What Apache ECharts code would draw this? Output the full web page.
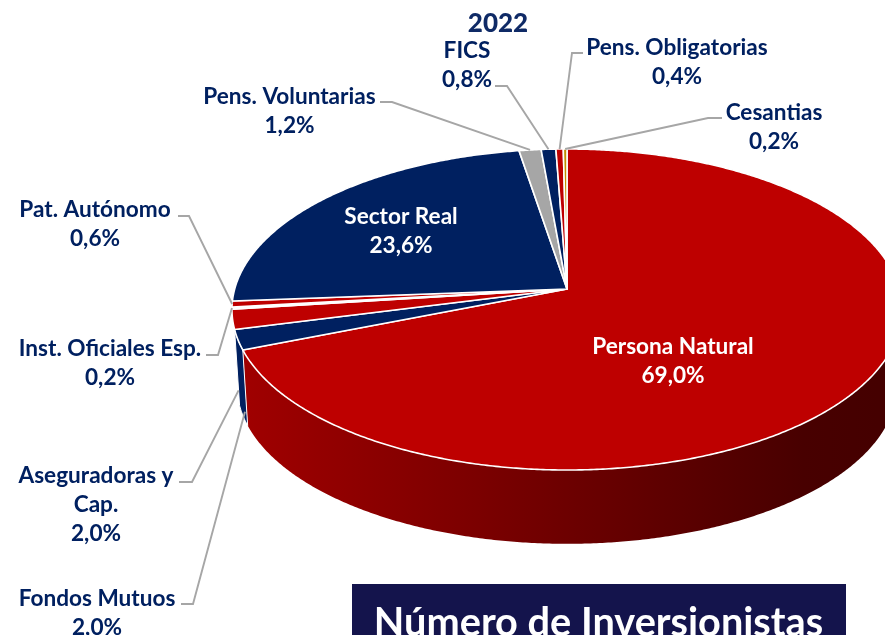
<!DOCTYPE html>
<html>
<head>
<meta charset="utf-8">
<style>html,body{margin:0;padding:0;background:#fff;overflow:hidden}#c{width:885px;height:635px}</style>
<script src="https://cdn.jsdelivr.net/npm/echarts@6/dist/echarts.min.js"></script>
</head>
<body>
<div id="c"></div>
<script>
// Data, clockwise from the top of the pie
const categories = ['Persona Natural','Fondos Mutuos','Aseguradoras y Cap.','Inst. Oficiales Esp.','Pat. Autónomo','Sector Real','Pens. Voluntarias','FICS','Pens. Obligatorias','Cesantias'];
const shares = [69.0,2.0,2.0,0.2,0.6,23.6,1.2,0.8,0.4,0.2];
const shareText = ['69,0%','2,0%','2,0%','0,2%','0,6%','23,6%','1,2%','0,8%','0,4%','0,2%'];
const yearTitle = '2022';
const bannerTitle = 'Número de Inversionistas';

// Styles and layout
const NAVY='#002060', RED='#BE0000', GRAY='#A6A6A6', GOLD='#BF9000', PALE='#F4F4F4';
const sliceColors=[RED,NAVY,RED,PALE,RED,NAVY,GRAY,NAVY,RED,GOLD];
const wallFill={0:{type:'linear',x:0,y:0,x2:1,y2:0,colorStops:[{offset:0,color:'#A00000'},{offset:0.5,color:'#6C0000'},{offset:0.85,color:'#480000'},{offset:1,color:'#440000'}]},1:NAVY};
const FONT='Lato';
const apex={x:567,y:289}, P=0.1277, A=157.9, C=332.3, S=0.985, DY=76.5;
const labelLayout=[
 {lines:['Persona Natural'],x:673,y:347,color:'#fff'},
 {lines:['Fondos Mutuos'],x:97,y:599,elbow:[193,604],start:[181,604],off:[7,72]},
 {lines:['Aseguradoras y','Cap.'],x:96,y:476,elbow:[192,482],start:[179,482],off:[6,71]},
 {lines:['Inst. Oficiales Esp.'],x:110,y:349,elbow:[218,355],start:[206,355]},
 {lines:['Pat. Autónomo'],x:95,y:210,elbow:[189,216],start:[178,216]},
 {lines:['Sector Real'],x:401,y:217,color:'#fff'},
 {lines:['Pens. Voluntarias'],x:289.5,y:97,elbow:[392,102],start:[380,102]},
 {lines:['FICS'],x:467,y:51,elbow:[507,86],start:[495,86]},
 {lines:['Pens. Obligatorias'],x:677,y:48,elbow:[572,53],start:[583,53]},
 {lines:['Cesantias'],x:774,y:113,elbow:[708,118],start:[722,118]}
];

const total=shares.reduce((a,b)=>a+b,0);
const starts=[];shares.reduce((s,v,i)=>{starts[i]=s;return s+v;},0);
function project(pct,s,dy){
  const t=pct/total*2*Math.PI,u=Math.sin(t),v=-Math.cos(t),d=1-P*v;
  return [apex.x+s*C*u/d, apex.y+dy+s*A*v/d];
}
function arc(from,to,s,dy){
  const pts=[],n=Math.max(2,Math.ceil((to-from)*8));
  for(let i=0;i<=n;i++)pts.push(project(from+(to-from)*i/n,s,dy));
  return pts;
}
const ids=shares.map((_,i)=>i);
const chart=echarts.init(document.getElementById('c'),null,{renderer:'canvas'});
chart.setOption({
  animation:false,
  backgroundColor:'#fff',
  series:[
   {type:'custom',coordinateSystem:'none',silent:true,z:1,data:ids,
    renderItem(p,api){
      const i=api.value(0);
      if(!wallFill[i])return {type:'group',children:[]};
      const top=arc(starts[i],starts[i]+shares[i],1,0);
      const bottom=arc(starts[i],starts[i]+shares[i],S,DY).reverse();
      return {type:'polygon',shape:{points:top.concat(bottom)},style:{fill:wallFill[i],stroke:i===1?'#fff':null,lineWidth:i===1?1:0}};
    },encode:{}},
   {type:'custom',coordinateSystem:'none',silent:true,z:2,data:ids,
    renderItem(p,api){
      const i=api.value(0);
      const pts=[[apex.x,apex.y]].concat(arc(starts[i],starts[i]+shares[i],1,0));
      return {type:'polygon',shape:{points:pts},style:{fill:sliceColors[i],stroke:'#fff',lineWidth:1.6,lineJoin:'round'}};
    },encode:{}},
   {type:'custom',coordinateSystem:'none',silent:true,z:3,data:ids,
    renderItem(p,api){
      const i=api.value(0),l=labelLayout[i],children=[];
      if(l.elbow){
        const e=project(starts[i]+shares[i]/2,1,0),o=l.off||[0,0];
        children.push({type:'polyline',shape:{points:[l.start,l.elbow,[e[0]+o[0],e[1]+o[1]]]},style:{stroke:'#A6A6A6',lineWidth:1.9,fill:null}});
      }
      l.lines.concat([shareText[i]]).forEach((t,k)=>{
        children.push({type:'text',style:{text:t,x:l.x,y:l.y+k*28.8,align:'center',verticalAlign:'middle',fill:l.color||NAVY,font:'bold 22.6px '+FONT}});
      });
      return {type:'group',children};
    },encode:{}}
  ],
  graphic:[
   {type:'text',z:10,style:{text:yearTitle,x:498,y:24,align:'center',verticalAlign:'middle',fill:'#0F2A66',font:'900 26px '+FONT}},
   {type:'rect',z:10,shape:{x:352,y:584,width:494,height:60},style:{fill:'#14144C'}},
   {type:'text',z:11,style:{text:bannerTitle,x:598.5,y:623,align:'center',verticalAlign:'middle',fill:'#fff',font:'bold 39.7px '+FONT}}
  ]
});
</script>
</body>
</html>
